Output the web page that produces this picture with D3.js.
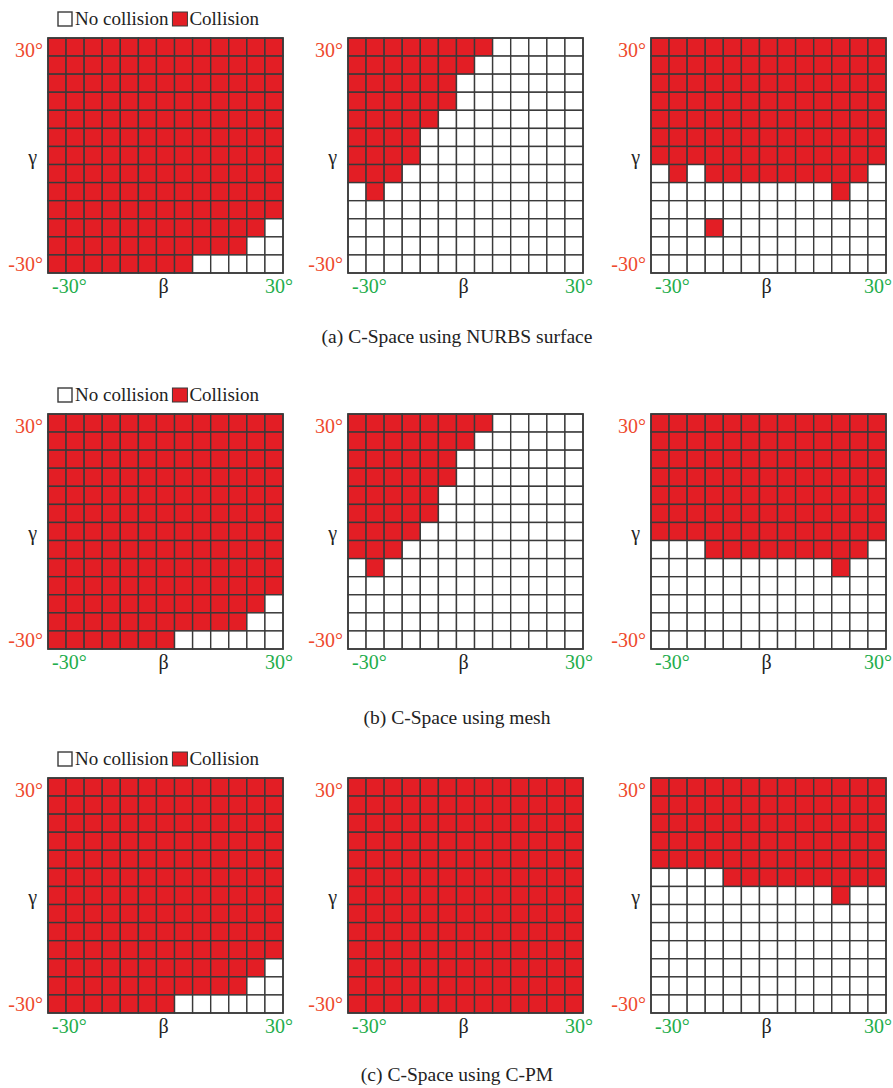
<!DOCTYPE html>
<html>
<head>
<meta charset="utf-8">
<script src="https://cdn.jsdelivr.net/npm/d3@7"></script>
<style>
  html, body { margin: 0; padding: 0; background: #fff; }
  svg { display: block; }
  text { font-family: "Liberation Serif", "Times New Roman", serif; }
</style>
</head>
<body>
<svg id="chart" width="893" height="1088"></svg>
<script>
// Collision maps: 13 x 13 samples of (beta, gamma), rows listed from gamma = 30° (top) to -30° (bottom),
// columns from beta = -30° (left) to 30° (right). 1 = collision, 0 = no collision.
const nurbs1 = [
  "1111111111111","1111111111111","1111111111111","1111111111111","1111111111111",
  "1111111111111","1111111111111","1111111111111","1111111111111","1111111111111",
  "1111111111110","1111111111100","1111111100000"
];
const nurbs2 = [
  "1111111100000","1111111000000","1111110000000","1111110000000","1111100000000",
  "1111000000000","1111000000000","1110000000000","0100000000000","0000000000000",
  "0000000000000","0000000000000","0000000000000"
];
const nurbs3 = [
  "1111111111111","1111111111111","1111111111111","1111111111111","1111111111111",
  "1111111111111","1111111111111","0101111111110","0000000000100","0000000000000",
  "0001000000000","0000000000000","0000000000000"
];
const mesh1 = [
  "1111111111111","1111111111111","1111111111111","1111111111111","1111111111111",
  "1111111111111","1111111111111","1111111111111","1111111111111","1111111111111",
  "1111111111110","1111111111100","1111111000000"
];
const mesh2 = [
  "1111111100000","1111111000000","1111110000000","1111110000000","1111100000000",
  "1111100000000","1111000000000","1110000000000","0100000000000","0000000000000",
  "0000000000000","0000000000000","0000000000000"
];
const mesh3 = [
  "1111111111111","1111111111111","1111111111111","1111111111111","1111111111111",
  "1111111111111","1111111111111","0001111111110","0000000000100","0000000000000",
  "0000000000000","0000000000000","0000000000000"
];
const cpm1 = [
  "1111111111111","1111111111111","1111111111111","1111111111111","1111111111111",
  "1111111111111","1111111111111","1111111111111","1111111111111","1111111111111",
  "1111111111110","1111111111100","1111111000000"
];
const cpm2 = [
  "1111111111111","1111111111111","1111111111111","1111111111111","1111111111111",
  "1111111111111","1111111111111","1111111111111","1111111111111","1111111111111",
  "1111111111111","1111111111111","1111111111111"
];
const cpm3 = [
  "1111111111111","1111111111111","1111111111111","1111111111111","1111111111111",
  "0000111111111","0000000000100","0000000000000","0000000000000","0000000000000",
  "0000000000000","0000000000000","0000000000000"
];

const groupMaps = [[nurbs1, nurbs2, nurbs3], [mesh1, mesh2, mesh3], [cpm1, cpm2, cpm3]];
const captions = ["(a) C-Space using NURBS surface", "(b) C-Space using mesh", "(c) C-Space using C-PM"];
const legendLabels = ["No collision", "Collision"];
const betaTicks = ["-30°", "β", "30°"];
const gammaTicks = ["30°", "γ", "-30°"];

// layout
const W = 893;
const gridSize = 235;
const colLefts = [48, 348, 651];
const rowTops = [38, 414, 778];
const captionBaselines = [343, 724, 1081];

const RED = "#e31e25";
const LINE = "#3a3a3a";
const TICK_RED = "#ee4a2e";
const TICK_GREEN = "#23ad4b";
const FS = 20;

const svg = d3.select("#chart");

const idx = d3.range(13);
const xBand = d3.scaleBand().domain(idx).range([0, gridSize]);
const yBand = d3.scaleBand().domain(idx).range([0, gridSize]);

groupMaps.forEach((maps, gi) => {
  const top = rowTops[gi];

  maps.forEach((map, mi) => {
    const left = colLefts[mi];
    const g = svg.append("g").attr("transform", `translate(${left},${top})`);

    const cells = [];
    map.forEach((row, r) => row.split("").forEach((v, c) => cells.push({ r, c, v: +v })));

    g.selectAll("rect.cell").data(cells).join("rect")
      .attr("class", "cell")
      .attr("x", d => xBand(d.c))
      .attr("y", d => yBand(d.r))
      .attr("width", xBand.bandwidth())
      .attr("height", yBand.bandwidth())
      .attr("fill", d => d.v ? RED : "#fff")
      .attr("stroke", LINE)
      .attr("stroke-width", 1.4);

    g.append("rect")
      .attr("width", gridSize).attr("height", gridSize)
      .attr("fill", "none").attr("stroke", LINE).attr("stroke-width", 1.6);

    // gamma labels on the left
    g.append("text").attr("x", -5).attr("y", 19).attr("text-anchor", "end")
      .attr("font-size", FS).attr("fill", TICK_RED).text(gammaTicks[0]);
    g.append("text").attr("x", -11).attr("y", gridSize / 2 + 8).attr("text-anchor", "end")
      .attr("font-size", FS).attr("fill", "#222").text(gammaTicks[1]);
    g.append("text").attr("x", -5).attr("y", gridSize - 2).attr("text-anchor", "end")
      .attr("font-size", FS).attr("fill", TICK_RED).text(gammaTicks[2]);

    // beta labels below
    const by = gridSize + 20;
    g.append("text").attr("x", 4).attr("y", by).attr("text-anchor", "start")
      .attr("font-size", FS).attr("fill", TICK_GREEN).text(betaTicks[0]);
    g.append("text").attr("x", gridSize / 2 - 2).attr("y", by).attr("text-anchor", "middle")
      .attr("font-size", FS).attr("fill", "#222").text(betaTicks[1]);
    g.append("text").attr("x", Math.min(gridSize + 10, W - 1 - left)).attr("y", by)
      .attr("text-anchor", "end")
      .attr("font-size", FS).attr("fill", TICK_GREEN).text(betaTicks[2]);
  });

  // legend above the first map of each row
  const lg = svg.append("g").attr("transform", `translate(${colLefts[0] + 10},${top - 26})`);
  lg.append("rect").attr("x", 0).attr("y", 0).attr("width", 14).attr("height", 14)
    .attr("fill", "#fff").attr("stroke", LINE).attr("stroke-width", 1.4);
  const t1 = lg.append("text").attr("x", 17).attr("y", 13).attr("font-size", 19)
    .attr("fill", "#222").text(legendLabels[0]);
  const w1 = t1.node().getComputedTextLength();
  lg.append("rect").attr("x", 17 + w1 + 4).attr("y", 0).attr("width", 15).attr("height", 14)
    .attr("fill", RED).attr("stroke", LINE).attr("stroke-width", 1);
  lg.append("text").attr("x", 17 + w1 + 21).attr("y", 13).attr("font-size", 19)
    .attr("fill", "#222").text(legendLabels[1]);

  // caption
  svg.append("text").attr("x", 457).attr("y", captionBaselines[gi]).attr("text-anchor", "middle")
    .attr("font-size", 19.5).attr("fill", "#222").text(captions[gi]);
});
</script>
</body>
</html>
